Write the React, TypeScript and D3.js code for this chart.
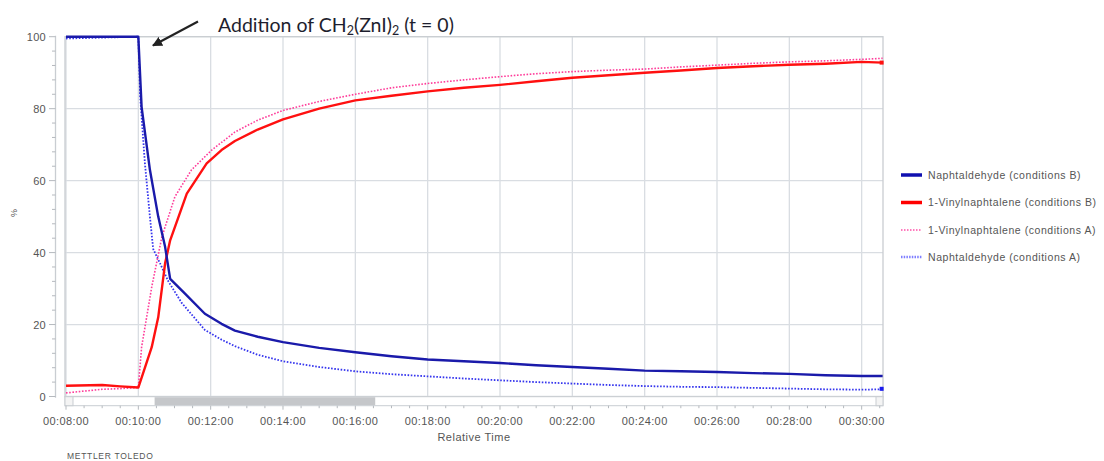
import React from "react";
import * as d3 from "d3";

// time in minutes (relative), value in %
const naphB: [number, number][] = [
  [8, 100], [10, 100], [10.09, 80.5], [10.32, 63], [10.55, 50], [10.74, 41.6], [10.88, 32.7],
  [11.29, 28.6], [11.84, 23], [12.3, 20.2], [12.67, 18.3], [13.3, 16.6], [14, 15.1], [15, 13.5],
  [16, 12.3], [17, 11.2], [18, 10.3], [19, 9.8], [20, 9.3], [21, 8.7], [22, 8.2], [23, 7.7],
  [24, 7.2], [25, 7.0], [26, 6.8], [27, 6.5], [28, 6.3], [29, 5.9], [30, 5.7], [30.58, 5.7],
];
const vinylB: [number, number][] = [
  [8, 3], [9, 3.2], [9.5, 2.8], [10, 2.5], [10.37, 13.7], [10.55, 22], [10.74, 37], [10.88, 43.4],
  [11.34, 56.4], [11.89, 64.8], [12.3, 68.5], [12.67, 71], [13.3, 74.2], [14, 77], [15, 80],
  [16, 82.3], [17, 83.6], [18, 84.8], [19, 85.8], [20, 86.6], [21, 87.6], [22, 88.6], [23, 89.3],
  [24, 90], [25, 90.6], [26, 91.3], [27, 91.8], [28, 92.2], [29, 92.5], [30, 93], [30.58, 92.8],
];
const vinylA: [number, number][] = [
  [8, 1], [8.5, 1.5], [9, 2], [9.5, 2.2], [10, 2.5], [10.09, 13.7], [10.37, 30.4], [10.65, 44.3],
  [11.01, 55.5], [11.47, 63], [12.03, 68.5], [12.67, 73.5], [13.3, 76.8], [14, 79.5], [15, 82],
  [16, 84], [17, 85.8], [18, 87], [19, 88], [20, 88.9], [21, 89.7], [22, 90.3], [23, 90.7],
  [24, 91], [25, 91.6], [26, 92.1], [27, 92.6], [28, 93], [29, 93.3], [30, 93.7], [30.58, 94],
];
const naphA: [number, number][] = [
  [8, 99.5], [10, 100], [10.05, 83.5], [10.18, 65], [10.32, 50], [10.41, 41], [10.6, 37],
  [10.83, 32], [11.2, 26], [11.84, 18.5], [12.3, 15.8], [12.67, 14], [13.3, 11.6], [14, 9.8],
  [15, 8.2], [16, 7], [17, 6.2], [18, 5.6], [19, 5], [20, 4.5], [21, 4], [22, 3.6], [23, 3.2],
  [24, 2.9], [25, 2.7], [26, 2.6], [27, 2.4], [28, 2.2], [29, 2], [30, 1.9], [30.58, 2],
];

const xTicks = [8, 10, 12, 14, 16, 18, 20, 22, 24, 26, 28, 30];
const yTicks = [0, 20, 40, 60, 80, 100];

const seriesNames = [
  "Naphtaldehyde (conditions B)",
  "1-Vinylnaphtalene (conditions B)",
  "1-Vinylnaphtalene (conditions A)",
  "Naphtaldehyde (conditions A)",
];

export default function App() {
  const x = d3.scaleLinear().domain([8, 30.59]).range([66, 883]);
  const y = d3.scaleLinear().domain([0, 100]).range([396.5, 36.7]);
  const line = d3
    .line<[number, number]>()
    .x((d) => x(d[0]))
    .y((d) => y(d[1]))
    .curve(d3.curveLinear);

  const left = 65;
  const right = 883;
  const top = 36.7;
  const bottom = 396.7;

  const minorX = d3.range(8, 30.6, 0.5);
  const minorY = d3.range(0, 100.1, 4);

  const series = [
    { name: seriesNames[0], data: naphB, color: "#1a1aaa", width: 2.4, dash: undefined as string | undefined, legColor: "#1010b0", legWidth: 3.5, legDash: undefined as string | undefined },
    { name: seriesNames[1], data: vinylB, color: "#ff1010", width: 2.4, dash: undefined, legColor: "#ff0000", legWidth: 3.5, legDash: undefined },
    { name: seriesNames[2], data: vinylA, color: "#ff3d9a", width: 1.6, dash: "1.6,1.6", legColor: "#ff4fa8", legWidth: 1.3, legDash: "1.5,1.5" },
    { name: seriesNames[3], data: naphA, color: "#3535ee", width: 1.8, dash: "1.6,1.6", legColor: "#7e7eff", legWidth: 2.6, legDash: "1.5,1.2" },
  ];
  const drawOrder = [3, 2, 1, 0];
  const legendY = [175, 202.5, 230, 257];

  const fmt = (m: number) => `00:${String(m).padStart(2, "0")}:00`;
  const font = "Arial, 'Liberation Sans', sans-serif";

  return (
    <svg
      width={1104}
      height={461}
      style={{ position: "absolute", left: 0, top: 0, background: "#fff" }}
      fontFamily={font}
    >
      {/* gridlines */}
      {xTicks.map((t) => (
        <line key={"gx" + t} x1={x(t)} x2={x(t)} y1={top} y2={bottom} stroke="#d9dde2" strokeWidth={1.3} />
      ))}
      {yTicks.map((t) => (
        <line key={"gy" + t} x1={left} x2={right} y1={y(t)} y2={y(t)} stroke="#d9dde2" strokeWidth={1.3} />
      ))}
      {/* plot frame */}
      <rect x={left} y={top} width={right - left} height={bottom - top} fill="none" stroke="#c9cdd2" strokeWidth={1.3} />

      {/* series */}
      {drawOrder.map((i) => {
        const s = series[i];
        return (
          <path
            key={"s" + i}
            d={line(s.data) || ""}
            fill="none"
            stroke={s.color}
            strokeWidth={s.width}
            strokeDasharray={s.dash}
            strokeLinejoin="round"
          />
        );
      })}
      {/* end markers */}
      <rect x={x(30.58) - 3} y={y(naphA[naphA.length - 1][1]) - 2.5} width={4} height={4} fill="#1a1aee" />
      <rect x={x(30.58) - 3} y={y(vinylB[vinylB.length - 1][1]) - 2} width={4} height={4} fill="#ff1010" />

      {/* scrollbar */}
      <rect x={left} y={bottom} width={right - left} height={9} fill="#fff" stroke="#c9cdd2" strokeWidth={1} />
      <rect x={x(10.45)} y={bottom + 0.5} width={x(16.55) - x(10.45)} height={8} fill="#c5c7ca" />
      <rect x={left} y={bottom} width={8} height={9} fill="#f4f4f4" stroke="#c9cdd2" strokeWidth={1} />
      <rect x={right - 7} y={bottom} width={7} height={9} fill="#f4f4f4" stroke="#c9cdd2" strokeWidth={1} />

      {/* x axis ticks */}
      {minorX.map((t) => {
        const major = Math.abs(t - Math.round(t / 2) * 2) < 1e-6;
        return (
          <line key={"tx" + t} x1={x(t)} x2={x(t)} y1={bottom + 9} y2={bottom + (major ? 13 : 11.5)} stroke="#b5b9be" strokeWidth={1} />
        );
      })}
      {xTicks.map((t) => (
        <text key={"lx" + t} x={x(t)} y={425} textAnchor="middle" fontSize={11} letterSpacing={0.4} fill="#555">
          {fmt(t)}
        </text>
      ))}
      <text x={474} y={441} textAnchor="middle" fontSize={11} letterSpacing={0.5} fill="#555">
        Relative Time
      </text>

      {/* y axis */}
      <line x1={55.5} x2={55.5} y1={top - 1} y2={bottom + 1} stroke="#c9cdd2" strokeWidth={1.3} />
      {minorY.map((t) => {
        const major = t % 20 === 0;
        return (
          <line key={"ty" + t} x1={major ? 49 : 52} x2={55.5} y1={y(t)} y2={y(t)} stroke="#b5b9be" strokeWidth={1} />
        );
      })}
      {yTicks.map((t) => (
        <text key={"ly" + t} x={46} y={y(t) + 4} textAnchor="end" fontSize={11} letterSpacing={0.3} fill="#555">
          {t}
        </text>
      ))}
      <text transform="translate(17,213) rotate(-90)" textAnchor="middle" fontSize={9} fill="#555">
        %
      </text>

      <text x={67} y={459} fontSize={8.5} letterSpacing={0.7} fill="#555">
        METTLER TOLEDO
      </text>

      {/* legend */}
      {series.map((s, i) => (
        <g key={"lg" + i}>
          <line x1={901} x2={922} y1={legendY[i]} y2={legendY[i]} stroke={s.legColor} strokeWidth={s.legWidth} strokeDasharray={s.legDash} />
          <text x={928} y={legendY[i] + 3.5} fontSize={10.5} letterSpacing={0.55} fill="#555">
            {s.name}
          </text>
        </g>
      ))}

      {/* annotation */}
      <defs>
        <marker id="arrowHead" viewBox="0 0 10 10" refX="9" refY="5" markerWidth="5" markerHeight="5" orient="auto">
          <path d="M0,0 L10,5 L0,10 z" fill="#222" />
        </marker>
      </defs>
      <line x1={198} y1={21.5} x2={153} y2={45.5} stroke="#222" strokeWidth={2} markerEnd="url(#arrowHead)" />
      <text x={218} y={32} fontSize={19.5} fontFamily="Lato, 'Open Sans', sans-serif" fill="#1e1e2e">
        Addition of CH
        <tspan fontSize={12.5} dy={3}>2</tspan>
        <tspan dy={-3}>(ZnI)</tspan>
        <tspan fontSize={12.5} dy={3}>2</tspan>
        <tspan dy={-3}> (t = 0)</tspan>
      </text>
    </svg>
  );
}
